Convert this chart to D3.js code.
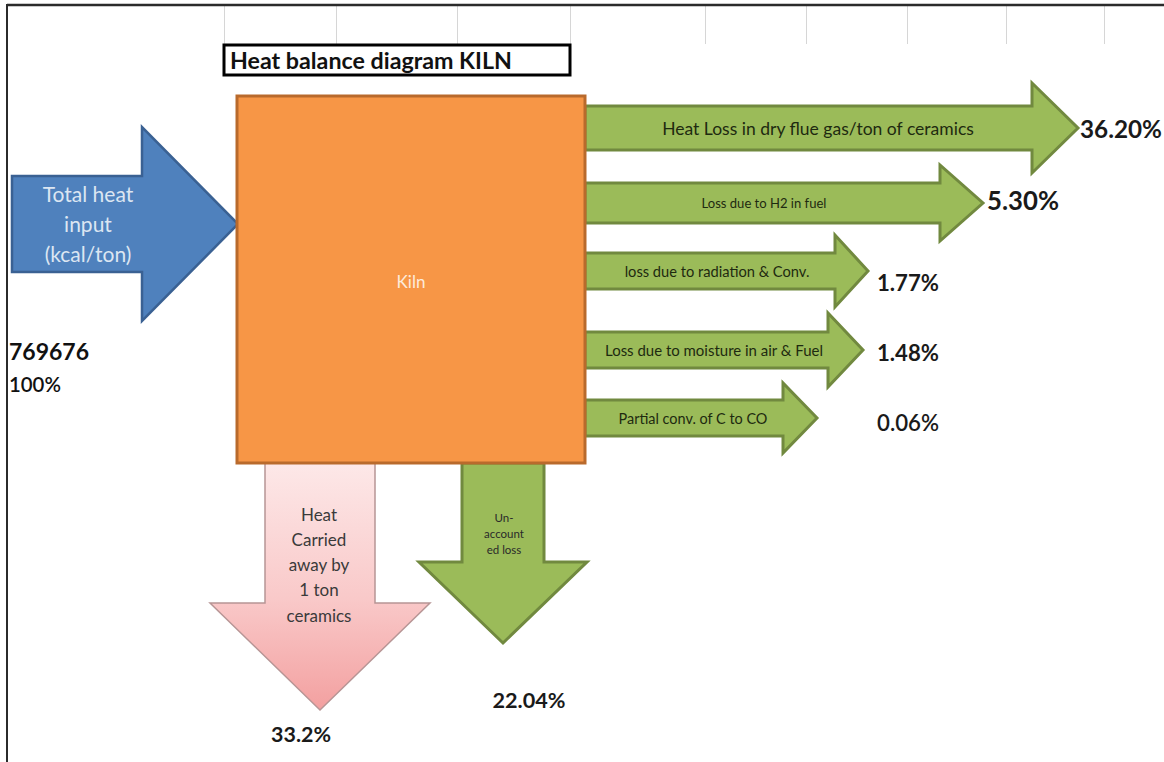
<!DOCTYPE html>
<html>
<head>
<meta charset="utf-8">
<script src="https://cdn.jsdelivr.net/npm/d3@7"></script>
<style>
  body { margin: 0; background: #fff; }
  svg { display: block; font-family: Lato, "Open Sans", sans-serif; }
</style>
</head>
<body>
<div id="chart"></div>
<script>
// ---- data ----
var title = "Heat balance diagram KILN";
var processName = "Kiln";
var inputLines = ["Total heat", "input", "(kcal/ton)"];
var inputValue = "769676";
var inputShare = "100%";

var lossLabels = [
    "Heat Loss in dry flue gas/ton of ceramics",
    "Loss due to H2 in fuel",
    "loss due to radiation & Conv.",
    "Loss due to moisture in air & Fuel",
    "Partial conv. of C to CO"
];
var lossValues = ["36.20%", "5.30%", "1.77%", "1.48%", "0.06%"];

var productLines = ["Heat", "Carried", "away by", "1 ton", "ceramics"];
var productValue = "33.2%";
var unaccountedLines = ["Un-", "account", "ed loss"];
var unaccountedValue = "22.04%";

// sheet column edges peeking in at the top
var gridCols = [224, 336, 457, 570, 705, 806, 907, 1006, 1104];

// ---- layout ----
var width = 1164, height = 762;

var green = "#9bbb59", greenEdge = "#71893f";
var blue = "#4f81bd", blueEdge = "#3a6193";
var orange = "#f79646", orangeEdge = "#b96a2c";

// geometry of each outgoing arrow (x0 is kiln edge)
var rightArrows = [
    {cy: 128, sh: 22, hh: 45, shoulder: 1032, tip: 1078, tw: 312, tx: 818, fs: 14, lx: 1080, ly: 128, lw: 82, bold: true},
    {cy: 203, sh: 20, hh: 38, shoulder: 940, tip: 983, tw: 125, tx: 764, fs: 11, lx: 987, ly: 200, lw: 72, bold: true},
    {cy: 271, sh: 18, hh: 36, shoulder: 835, tip: 868, tw: 185, tx: 717, fs: 11, lx: 877, ly: 282, lw: 62, bold: true},
    {cy: 350, sh: 18, hh: 37, shoulder: 828, tip: 863, tw: 218, tx: 714, fs: 11, lx: 877, ly: 352, lw: 62, bold: true},
    {cy: 418, sh: 18, hh: 35, shoulder: 783, tip: 817, tw: 149, tx: 693, fs: 11, lx: 877, ly: 422, lw: 62, bold: false}
];

var kiln = {x0: 237, x1: 585, y0: 96, y1: 463};

var svg = d3.select('#chart')
  .append('svg')
    .attr('width', width)
    .attr('height', height)
    .attr('viewBox', [0, 0, width, height]);

var defs = svg.append('defs');
var grad = defs.append('linearGradient')
    .attr('id', 'pinkGrad')
    .attr('x1', 0).attr('y1', 0).attr('x2', 0).attr('y2', 1);
grad.append('stop').attr('offset', '0%').attr('stop-color', '#fde8e8');
grad.append('stop').attr('offset', '55%').attr('stop-color', '#f9c9c9');
grad.append('stop').attr('offset', '100%').attr('stop-color', '#f3a0a0');

// shrink/grow the font so the text takes the width seen in the picture
function fitWidth(sel, w) {
    sel.each(function() {
        var t = d3.select(this);
        var fs = parseFloat(t.attr('font-size'));
        var len = this.getComputedTextLength();
        if (len > 0) t.attr('font-size', (fs * w / len).toFixed(2));
    });
}

function rightArrow(x0, a) {
    var p = d3.path();
    p.moveTo(x0, a.cy - a.sh);
    p.lineTo(a.shoulder, a.cy - a.sh);
    p.lineTo(a.shoulder, a.cy - a.hh);
    p.lineTo(a.tip, a.cy);
    p.lineTo(a.shoulder, a.cy + a.hh);
    p.lineTo(a.shoulder, a.cy + a.sh);
    p.lineTo(x0, a.cy + a.sh);
    p.closePath();
    return p.toString();
}

function downArrow(y0, a) {
    var p = d3.path();
    p.moveTo(a.cx - a.sh, y0);
    p.lineTo(a.cx + a.sh, y0);
    p.lineTo(a.cx + a.sh, a.shoulder);
    p.lineTo(a.cx + a.hh, a.shoulder);
    p.lineTo(a.cx, a.tip);
    p.lineTo(a.cx - a.hh, a.shoulder);
    p.lineTo(a.cx - a.sh, a.shoulder);
    p.closePath();
    return p.toString();
}

// frame and sheet grid
svg.append('g')
    .attr('stroke', '#d6d6d6')
    .attr('stroke-width', 1)
  .selectAll('line')
  .data(gridCols)
  .enter()
  .append('line')
    .attr('x1', d => d + 0.5).attr('x2', d => d + 0.5)
    .attr('y1', 6).attr('y2', 44);

svg.append('line')
    .attr('x1', 7).attr('x2', width).attr('y1', 5).attr('y2', 5)
    .attr('stroke', '#2b2b2b').attr('stroke-width', 2.5);
svg.append('line')
    .attr('x1', 7).attr('x2', 7).attr('y1', 4).attr('y2', height)
    .attr('stroke', '#2b2b2b').attr('stroke-width', 2);

// title box
svg.append('rect')
    .attr('x', 224).attr('y', 45).attr('width', 346).attr('height', 30)
    .attr('fill', '#fff').attr('stroke', '#000').attr('stroke-width', 3);
svg.append('text')
    .attr('x', 230).attr('y', 60)
    .attr('dominant-baseline', 'central')
    .attr('font-size', 18).attr('font-weight', 'bold')
    .attr('fill', '#111')
    .text(title)
    .call(fitWidth, 282);

// outgoing losses to the right
var outs = svg.append('g')
  .selectAll('g')
  .data(rightArrows.map((a, i) => Object.assign({label: lossLabels[i], value: lossValues[i]}, a)))
  .enter()
  .append('g');

outs.append('path')
    .attr('d', d => rightArrow(kiln.x1, d))
    .attr('fill', green)
    .attr('stroke', greenEdge)
    .attr('stroke-width', 3)
    .attr('stroke-linejoin', 'miter');

outs.append('text')
    .attr('x', d => d.tx).attr('y', d => d.cy)
    .attr('text-anchor', 'middle')
    .attr('dominant-baseline', 'central')
    .attr('font-size', d => d.fs)
    .attr('fill', '#1e2a10')
    .text(d => d.label)
    .each(function(d) { fitWidth(d3.select(this), d.tw); });

outs.append('text')
    .attr('x', d => d.lx).attr('y', d => d.ly)
    .attr('dominant-baseline', 'central')
    .attr('font-size', 18)
    .attr('font-weight', d => d.bold ? 'bold' : 600)
    .attr('fill', '#1a1a1a')
    .text(d => d.value)
    .each(function(d) { fitWidth(d3.select(this), d.lw); });

// heat carried away by product (pink) and unaccounted loss (green)
var pinkArrow = {cx: 320, sh: 55, hh: 110, shoulder: 603, tip: 710};
var unArrow = {cx: 503, sh: 41, hh: 84, shoulder: 562, tip: 643};

svg.append('path')
    .attr('d', downArrow(kiln.y1, pinkArrow))
    .attr('fill', 'url(#pinkGrad)')
    .attr('stroke', '#b79595')
    .attr('stroke-width', 1.5);

svg.append('path')
    .attr('d', downArrow(kiln.y1, unArrow))
    .attr('fill', green)
    .attr('stroke', greenEdge)
    .attr('stroke-width', 3);

svg.append('g')
  .selectAll('text')
  .data(productLines)
  .enter()
  .append('text')
    .attr('x', 319)
    .attr('y', (d, i) => 514 + i * 25.3)
    .attr('text-anchor', 'middle')
    .attr('dominant-baseline', 'central')
    .attr('font-size', 17)
    .attr('fill', '#3a3a3a')
    .text(d => d);

svg.append('g')
  .selectAll('text')
  .data(unaccountedLines)
  .enter()
  .append('text')
    .attr('x', 504)
    .attr('y', (d, i) => 517 + i * 16)
    .attr('text-anchor', 'middle')
    .attr('dominant-baseline', 'central')
    .attr('font-size', 11.5)
    .attr('fill', '#2a2a2a')
    .text(d => d);

svg.append('text')
    .attr('x', 301).attr('y', 734)
    .attr('text-anchor', 'middle')
    .attr('dominant-baseline', 'central')
    .attr('font-size', 18).attr('font-weight', 'bold')
    .attr('fill', '#1a1a1a')
    .text(productValue)
    .call(fitWidth, 60);

svg.append('text')
    .attr('x', 529).attr('y', 700)
    .attr('text-anchor', 'middle')
    .attr('dominant-baseline', 'central')
    .attr('font-size', 18).attr('font-weight', 'bold')
    .attr('fill', '#1a1a1a')
    .text(unaccountedValue)
    .call(fitWidth, 73);

// heat input arrow (blue)
var inArrow = {cy: 224, sh: 48, hh: 97, shoulder: 142, tip: 238};
svg.append('path')
    .attr('d', rightArrow(12, inArrow))
    .attr('fill', blue)
    .attr('stroke', blueEdge)
    .attr('stroke-width', 2.5);

svg.append('g')
  .selectAll('text')
  .data(inputLines)
  .enter()
  .append('text')
    .attr('x', 88)
    .attr('y', (d, i) => 193 + i * 30)
    .attr('text-anchor', 'middle')
    .attr('dominant-baseline', 'central')
    .attr('font-size', 21)
    .attr('fill', '#dce6f2')
    .text(d => d);

svg.append('text')
    .attr('x', 9).attr('y', 351)
    .attr('dominant-baseline', 'central')
    .attr('font-size', 18).attr('font-weight', 'bold')
    .attr('fill', '#111')
    .text(inputValue)
    .call(fitWidth, 80);

svg.append('text')
    .attr('x', 9).attr('y', 384)
    .attr('dominant-baseline', 'central')
    .attr('font-size', 16).attr('font-weight', 600)
    .attr('fill', '#111')
    .text(inputShare)
    .call(fitWidth, 52);

// the kiln itself
svg.append('rect')
    .attr('x', kiln.x0).attr('y', kiln.y0)
    .attr('width', kiln.x1 - kiln.x0).attr('height', kiln.y1 - kiln.y0)
    .attr('fill', orange)
    .attr('stroke', orangeEdge)
    .attr('stroke-width', 3);

svg.append('text')
    .attr('x', 411).attr('y', 281)
    .attr('text-anchor', 'middle')
    .attr('dominant-baseline', 'central')
    .attr('font-size', 18)
    .attr('fill', '#fdeada')
    .text(processName)
    .call(fitWidth, 29);
</script>
</body>
</html>
